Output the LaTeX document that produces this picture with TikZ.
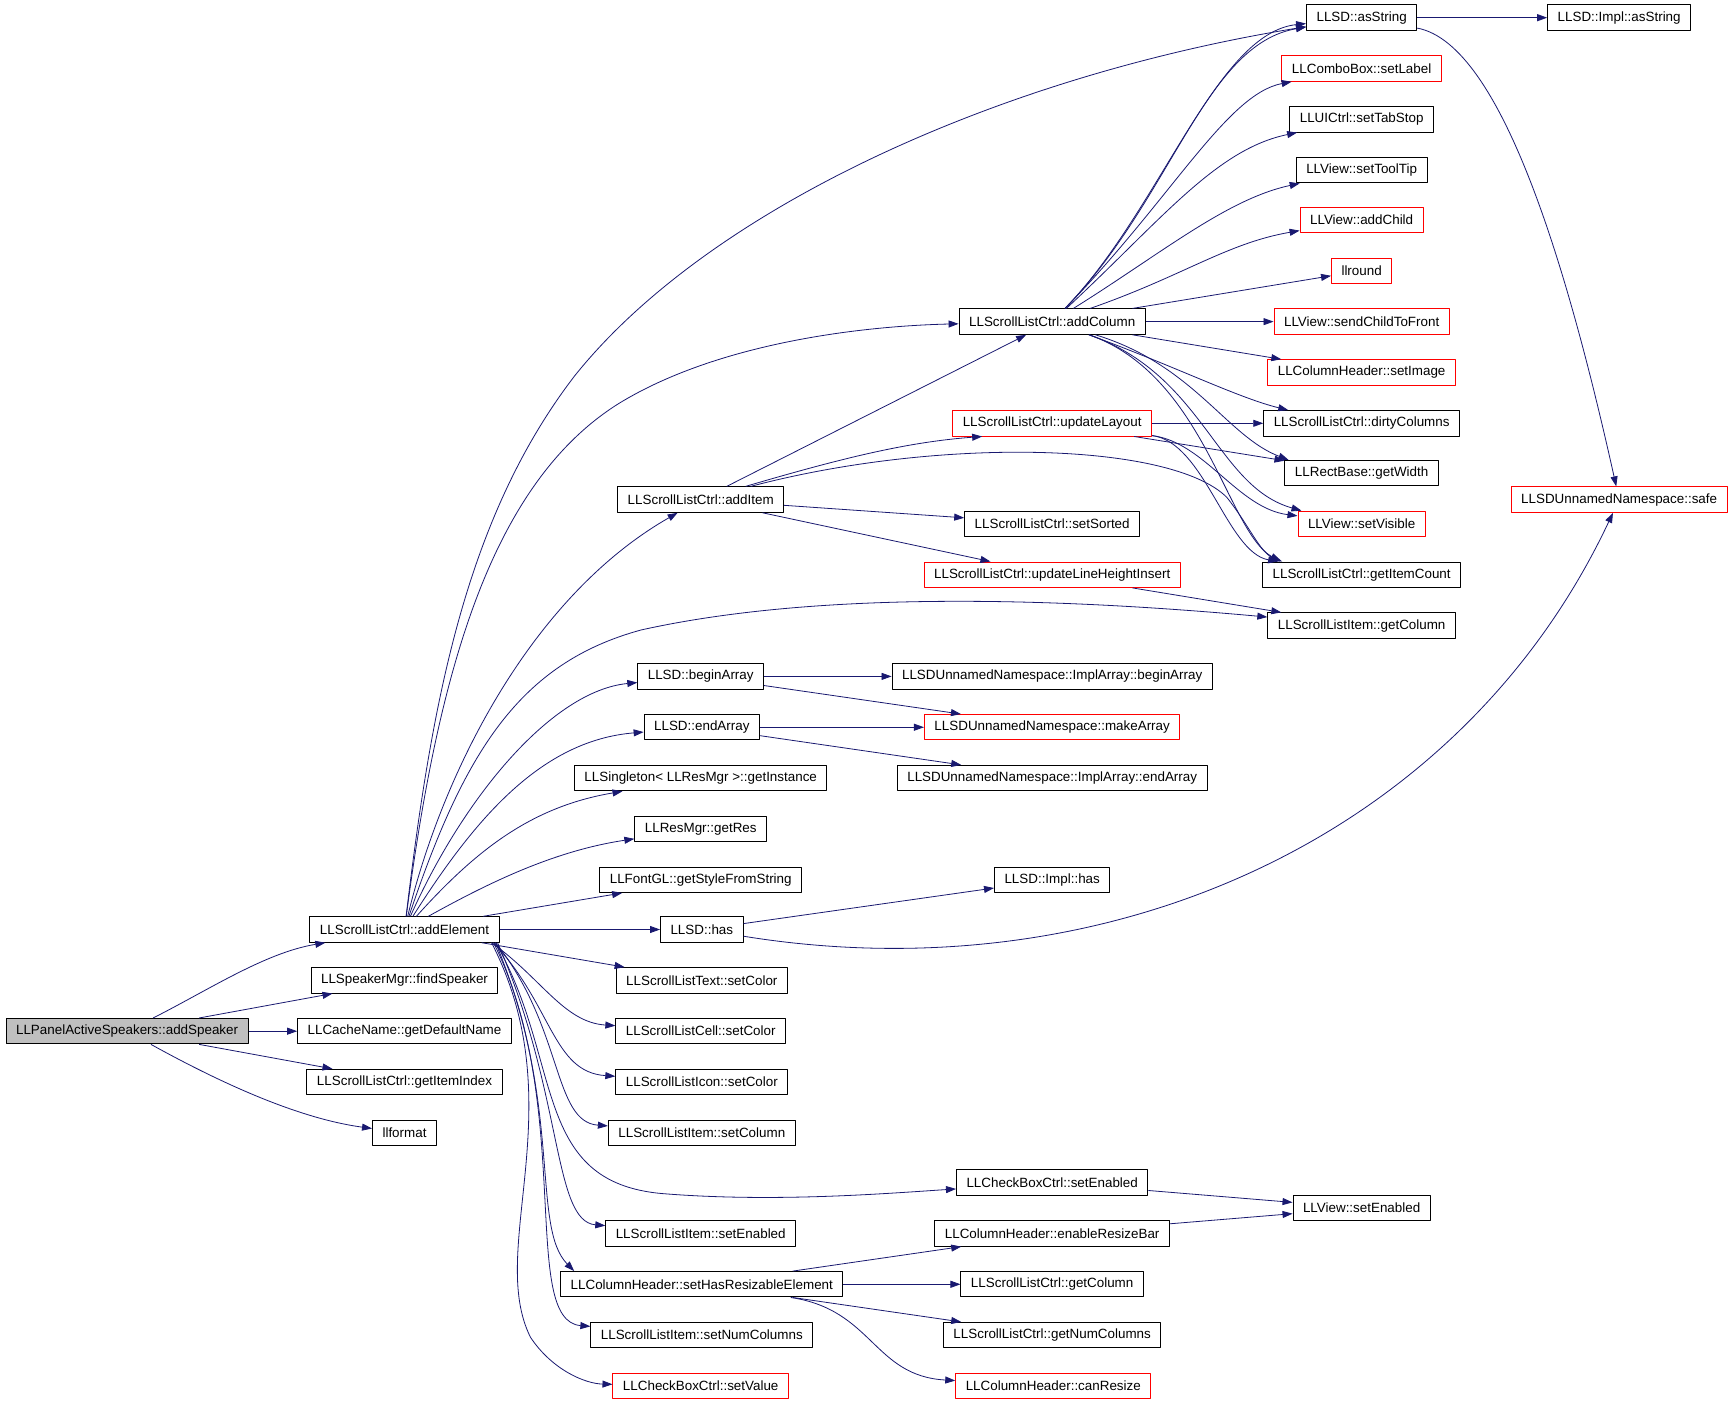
\documentclass[tikz,border=0pt]{standalone}
\usepackage{fontspec}
\setmainfont{Liberation Sans}
\usetikzlibrary{arrows.meta}
\definecolor{edgeblue}{RGB}{25,25,112}
\definecolor{rootgray}{RGB}{191,191,191}
\begin{document}
\begin{tikzpicture}[x=1.105pt,y=-1.105pt,line join=round,
	fn/.style={draw=black,line width=1pt,minimum height=25.4pt,inner xsep=10pt,inner ysep=0pt,font=\fontsize{13.4}{16}\selectfont},
	fnred/.style={fn,draw=red},
	fnroot/.style={fn,fill=rootgray},
	call/.style={draw=edgeblue,line width=.8pt,-{Triangle[length=10pt,width=7pt]}}]
	\useasboundingbox (0,0) rectangle (1568,1271);
	% first and second column
	\node[fnroot] (aspk) at (115,933) {LLPanelActiveSpeakers::addSpeaker};
	\node[fn] (aelem) at (366,841) {LLScrollListCtrl::addElement};
	\node[fn] (fspk) at (366,887) {LLSpeakerMgr::findSpeaker};
	\node[fn] (gdn) at (366,933) {LLCacheName::getDefaultName};
	\node[fn] (gii) at (366,979) {LLScrollListCtrl::getItemIndex};
	\node[fn] (lfmt) at (366,1025) {llformat};
	% third column
	\node[fn] (aitem) at (634,452) {LLScrollListCtrl::addItem};
	\node[fn] (bArr) at (634,612) {LLSD::beginArray};
	\node[fn] (eArr) at (635,658) {LLSD::endArray};
	\node[fn] (ginst) at (634,704) {LLSingleton< LLResMgr >::getInstance};
	\node[fn] (gres) at (634,750) {LLResMgr::getRes};
	\node[fn] (gsfs) at (634,796) {LLFontGL::getStyleFromString};
	\node[fn] (has) at (635,841) {LLSD::has};
	\node[fn] (txtc) at (635,887) {LLScrollListText::setColor};
	\node[fn] (cellc) at (634,933) {LLScrollListCell::setColor};
	\node[fn] (iconc) at (635,979) {LLScrollListIcon::setColor};
	\node[fn] (setcol) at (635,1025) {LLScrollListItem::setColumn};
	\node[fn] (itemen) at (634,1116) {LLScrollListItem::setEnabled};
	\node[fn] (shre) at (635,1162) {LLColumnHeader::setHasResizableElement};
	\node[fn] (snc) at (635,1208) {LLScrollListItem::setNumColumns};
	\node[fnred] (cbval) at (634,1254) {LLCheckBoxCtrl::setValue};
	% fourth column
	\node[fn] (acol) at (952,291) {LLScrollListCtrl::addColumn};
	\node[fnred] (ulay) at (952,383) {LLScrollListCtrl::updateLayout};
	\node[fn] (ssort) at (952,474) {LLScrollListCtrl::setSorted};
	\node[fnred] (ulhi) at (952,520) {LLScrollListCtrl::updateLineHeightInsert};
	\node[fn] (iabA) at (952,612) {LLSDUnnamedNamespace::ImplArray::beginArray};
	\node[fnred] (mkA) at (952,658) {LLSDUnnamedNamespace::makeArray};
	\node[fn] (iaeA) at (952,704) {LLSDUnnamedNamespace::ImplArray::endArray};
	\node[fn] (ihas) at (952,796) {LLSD::Impl::has};
	\node[fn] (cben) at (952,1070) {LLCheckBoxCtrl::setEnabled};
	\node[fn] (erb) at (952,1116) {LLColumnHeader::enableResizeBar};
	\node[fn] (gcol) at (952,1162) {LLScrollListCtrl::getColumn};
	\node[fn] (gnc) at (952,1208) {LLScrollListCtrl::getNumColumns};
	\node[fnred] (cres) at (953,1254) {LLColumnHeader::canResize};
	% fifth column
	\node[fn] (astr) at (1232,16) {LLSD::asString};
	\node[fnred] (slab) at (1232,62) {LLComboBox::setLabel};
	\node[fn] (stab) at (1232,108) {LLUICtrl::setTabStop};
	\node[fn] (stip) at (1232,154) {LLView::setToolTip};
	\node[fnred] (achild) at (1232,199) {LLView::addChild};
	\node[fnred] (lrnd) at (1232,245) {llround};
	\node[fnred] (scf) at (1232,291) {LLView::sendChildToFront};
	\node[fnred] (simg) at (1232,337) {LLColumnHeader::setImage};
	\node[fn] (dcol) at (1232,383) {LLScrollListCtrl::dirtyColumns};
	\node[fn] (gw) at (1232,428) {LLRectBase::getWidth};
	\node[fnred] (svis) at (1232,474) {LLView::setVisible};
	\node[fn] (gic) at (1232,520) {LLScrollListCtrl::getItemCount};
	\node[fn] (icol) at (1232,566) {LLScrollListItem::getColumn};
	\node[fn] (ven) at (1232,1093) {LLView::setEnabled};
	% last column
	\node[fn] (iastr) at (1465,16) {LLSD::Impl::asString};
	\node[fnred] (safe) at (1465,452) {LLSDUnnamedNamespace::safe};
	% calls of addSpeaker
	\draw[call] (aspk) .. controls (190,895) and (240,862) .. (aelem);
	\draw[call] (aspk) -- (fspk);
	\draw[call] (aspk) -- (gdn);
	\draw[call] (aspk) -- (gii);
	\draw[call] (aspk) .. controls (200,980) and (270,1012) .. (lfmt);
	% calls of addElement, upwards
	\draw[call] (aelem) .. controls (390,640) and (420,470) .. (520,340) .. controls (640,190) and (900,70) .. (astr);
	\draw[call] (aelem) .. controls (395,620) and (440,440) .. (560,365) .. controls (650,310) and (780,295) .. (acol);
	\draw[call] (aelem) .. controls (400,700) and (480,540) .. (aitem);
	\draw[call] (aelem) .. controls (420,680) and (470,600) .. (580,570) .. controls (760,530) and (1000,545) .. (icol);
	\draw[call] (aelem) .. controls (420,720) and (500,625) .. (bArr);
	\draw[call] (aelem) .. controls (430,740) and (490,670) .. (eArr);
	\draw[call] (aelem) .. controls (430,770) and (480,730) .. (ginst);
	\draw[call] (aelem) .. controls (440,800) and (500,770) .. (gres);
	\draw[call] (aelem) -- (gsfs);
	\draw[call] (aelem) -- (has);
	% calls of addElement, downwards
	\draw[call] (aelem) -- (txtc);
	\draw[call] ([xshift=-8pt]aelem.south east) .. controls (490,885) and (510,925) .. (cellc);
	\draw[call] ([xshift=-6pt]aelem.south east) .. controls (500,910) and (500,970) .. (iconc);
	\draw[call] ([xshift=-4pt]aelem.south east) .. controls (510,930) and (500,1015) .. (setcol);
	\draw[call] ([xshift=-4pt]aelem.south east) .. controls (510,960) and (480,1070) .. (600,1080) .. controls (700,1088) and (800,1080) .. (cben);
	\draw[call] ([xshift=-2pt]aelem.south east) .. controls (510,990) and (500,1105) .. (itemen);
	\draw[call] ([xshift=-4pt]aelem.south east) .. controls (510,1000) and (480,1110) .. ([xshift=14pt]shre.north west);
	\draw[call] ([xshift=-6pt]aelem.south east) .. controls (520,1000) and (470,1195) .. (snc);
	\draw[call] ([xshift=-8pt]aelem.south east) .. controls (520,1000) and (440,1130) .. (480,1210) .. controls (500,1240) and (530,1252) .. (cbval);
	% calls of addItem
	\draw[call] (aitem) -- (acol);
	\draw[call] (aitem) .. controls (760,415) and (820,400) .. ([xshift=-70pt]ulay.south);
	\draw[call] (aitem) .. controls (850,395) and (1060,400) .. (1110,450) .. controls (1130,475) and (1140,500) .. ([xshift=20pt]gic.north west);
	\draw[call] (aitem) -- (ssort);
	\draw[call] (aitem) -- (ulhi);
	% calls of addColumn
	\draw[call] (acol) .. controls (1060,180) and (1090,40) .. (astr);
	\draw[call] (acol) .. controls (1050,190) and (1100,30) .. (astr);
	\draw[call] (acol) .. controls (1060,180) and (1110,85) .. (slab);
	\draw[call] (acol) .. controls (1050,200) and (1100,135) .. (stab);
	\draw[call] (acol) .. controls (1050,230) and (1110,180) .. (stip);
	\draw[call] (acol) .. controls (1070,250) and (1110,220) .. (achild);
	\draw[call] (acol) -- (lrnd);
	\draw[call] (acol) -- (scf);
	\draw[call] (acol) -- (simg);
	\draw[call] (acol) .. controls (1060,330) and (1120,360) .. ([xshift=25pt]dcol.north west);
	\draw[call] (acol) .. controls (1080,330) and (1110,395) .. ([xshift=4pt]gw.north west);
	\draw[call] (acol) .. controls (1090,340) and (1100,440) .. ([xshift=4pt]svis.north west);
	\draw[call] (acol) .. controls (1090,340) and (1110,480) .. ([xshift=18pt]gic.north west);
	% calls of updateLayout
	\draw[call] (ulay) -- (dcol);
	\draw[call] (ulay) -- (gw);
	\draw[call] (ulay) .. controls (1090,400) and (1120,460) .. (svis);
	\draw[call] (ulay) .. controls (1090,400) and (1110,500) .. ([xshift=16pt]gic.north west);
	\draw[call] (ulhi) -- (icol);
	% LLSD calls
	\draw[call] (astr) -- (iastr);
	\draw[call] (astr) .. controls (1360,40) and (1420,250) .. (safe);
	\draw[call] (bArr) -- (iabA);
	\draw[call] (bArr) -- (mkA);
	\draw[call] (eArr) -- (mkA);
	\draw[call] (eArr) -- (iaeA);
	\draw[call] (has) -- (ihas);
	\draw[call] (has) .. controls (1000,900) and (1320,760) .. (safe);
	% enable and resize calls
	\draw[call] (cben) -- (ven);
	\draw[call] (erb) -- (ven);
	\draw[call] (shre) -- (erb);
	\draw[call] (shre) -- (gcol);
	\draw[call] (shre) -- (gnc);
	\draw[call] (shre) .. controls (790,1185) and (790,1245) .. (cres);
\end{tikzpicture}
\end{document}
